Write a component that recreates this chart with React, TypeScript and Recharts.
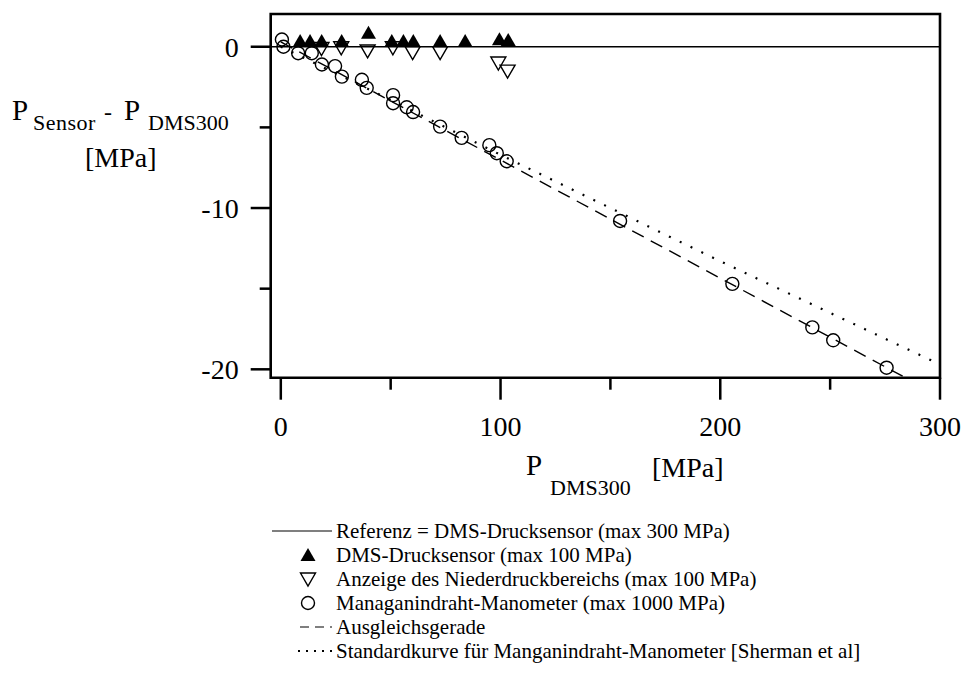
import { ComposedChart, Scatter, Line, XAxis, YAxis, ReferenceLine, ReferenceArea, Legend } from 'recharts'

// Manganindraht-Manometer (hollow circles)
const circleX = [0.5, 1.2, 7.9, 14.1, 18.7, 24.7, 27.8, 36.9, 39.1, 51.1, 51.1, 57.3, 60.2, 72.5, 82.3, 94.9, 98.3, 102.8, 154.4, 205.5, 241.9, 251.4, 275.7]
const circleY = [0.45, 0.0, -0.4, -0.4, -1.1, -1.2, -1.85, -2.05, -2.55, -3.0, -3.5, -3.75, -4.05, -4.95, -5.65, -6.1, -6.6, -7.1, -10.8, -14.7, -17.4, -18.2, -19.9]

// DMS-Drucksensor max 100 MPa (filled triangles)
const upX = [8.8, 13.3, 18.6, 27.7, 39.9, 50.5, 55.8, 60.3, 72.5, 83.9, 99.5, 103.5]
const upY = [0.3, 0.3, 0.3, 0.3, 0.8, 0.3, 0.3, 0.3, 0.3, 0.3, 0.4, 0.35]

// Anzeige des Niederdruckbereichs (hollow down triangles)
const downX = [18.5, 27.5, 39.5, 51.0, 60.0, 72.5, 99.0, 103.2]
const downY = [-0.05, 0.0, -0.2, 0.0, -0.3, -0.3, -0.95, -1.45]

// Ausgleichsgerade
const fitX = [0, 284]
const fitY = [0.3, -20.5]

// Standardkurve (Sherman et al)
const stdX = [0, 50, 100, 150, 200, 250, 300]
const stdY = [0, -3.3, -6.7, -10.0, -13.3, -16.5, -19.7]

const xDomain = [-4.6, 300]
const yDomain = [-20.52, 2.03]
const xTicks = [0, 50, 100, 150, 200, 250, 300]
const yTicks = [0, -5, -10, -15, -20]

const legendLabels = [
  'Referenz = DMS-Drucksensor (max 300 MPa)',
  'DMS-Drucksensor (max 100 MPa)',
  'Anzeige des Niederdruckbereichs (max 100 MPa)',
  'Managanindraht-Manometer (max 1000 MPa)',
  'Ausgleichsgerade',
  'Standardkurve für Manganindraht-Manometer [Sherman et al]',
]

const pts = (xs: number[], ys: number[]) => xs.map((x, i) => ({ x, y: ys[i] }))
const circles = pts(circleX, circleY)
const ups = pts(upX, upY)
const downs = pts(downX, downY)
const fit = pts(fitX, fitY)
const std = pts(stdX, stdY)

const serif = '"Liberation Serif", Tinos, "DejaVu Serif", serif'
const ink = '#000'

const UpTri = ({ cx, cy }: any) => (
  <polygon points={`${cx},${cy - 8} ${cx - 7.5},${cy + 5} ${cx + 7.5},${cy + 5}`} fill={ink} />
)
const DownTri = ({ cx, cy }: any) => (
  <polygon points={`${cx - 7.5},${cy - 5} ${cx + 7.5},${cy - 5} ${cx},${cy + 8}`} fill="none" stroke={ink} strokeWidth={1.4} />
)
const Ring = ({ cx, cy }: any) => <circle cx={cx} cy={cy} r={6.5} fill="none" stroke={ink} strokeWidth={1.4} />

function YTick({ x, y, payload }: any) {
  const major = payload.value % 10 === 0
  const axisX = x + 12 + 20
  return (
    <g>
      <line x1={axisX - (major ? 20 : 11)} x2={axisX} y1={y} y2={y} stroke={ink} strokeWidth={2.5} />
      {major && (
        <text x={x} y={y} dy="0.35em" textAnchor="end" fontFamily={serif} fontSize={28} fill={ink}>
          {payload.value}
        </text>
      )}
    </g>
  )
}

function XTick({ x, y, payload }: any) {
  const major = payload.value % 100 === 0
  const axisY = y - 22 - 14
  return (
    <g>
      <line x1={x} x2={x} y1={axisY} y2={axisY + (major ? 22 : 12)} stroke={ink} strokeWidth={2.5} />
      {major && (
        <text x={x} y={y} dy="0.78em" textAnchor="middle" fontFamily={serif} fontSize={28} fill={ink}>
          {payload.value}
        </text>
      )}
    </g>
  )
}

function LegendSymbol({ i }: { i: number }) {
  if (i === 0) return <line x1={2} x2={62} y1={12} y2={12} stroke={ink} strokeWidth={1.2} />
  if (i === 1) return <UpTri cx={38} cy={13} />
  if (i === 2) return <DownTri cx={38} cy={11} />
  if (i === 3) return <Ring cx={38} cy={12} />
  if (i === 4) return <line x1={30} x2={62} y1={12} y2={12} stroke={ink} strokeWidth={1.2} strokeDasharray="9 6" />
  return <line x1={28} x2={62} y1={12} y2={12} stroke={ink} strokeWidth={1.8} strokeDasharray="2 6" />
}

function LegendBox() {
  return (
    <div style={{ fontFamily: serif, fontSize: 21, color: ink }}>
      {legendLabels.map((label, i) => (
        <div key={label} style={{ display: 'flex', alignItems: 'center', height: 24, whiteSpace: 'nowrap' }}>
          <svg width={66} height={24} style={{ flex: 'none' }}>
            <LegendSymbol i={i} />
          </svg>
          <span>{label}</span>
        </div>
      ))}
    </div>
  )
}

export default function App() {
  return (
    <div style={{ position: 'absolute', left: 0, top: 0, width: 967, height: 682, background: '#fff' }}>
      <ComposedChart width={967} height={682} margin={{ top: 14, right: 27, bottom: 244.3, left: 210.7 }}>
        <XAxis
          type="number"
          dataKey="x"
          domain={xDomain}
          ticks={xTicks}
          allowDataOverflow
          height={60}
          tickSize={22}
          tickMargin={14}
          tickLine={false}
          axisLine={false}
          tick={<XTick />}
        />
        <YAxis
          type="number"
          dataKey="y"
          domain={yDomain}
          ticks={yTicks}
          allowDataOverflow
          width={60}
          tickSize={20}
          tickMargin={12}
          tickLine={false}
          axisLine={false}
          tick={<YTick />}
        />
        <ReferenceArea x1={xDomain[0]} x2={xDomain[1]} y1={yDomain[0]} y2={yDomain[1]} fill="none" stroke={ink} strokeWidth={2.6} fillOpacity={0} />
        <ReferenceLine y={0} stroke={ink} strokeWidth={1.6} />
        <Line data={std} dataKey="y" stroke={ink} strokeWidth={2.2} strokeDasharray="2 10" dot={false} isAnimationActive={false} />
        <Line data={fit} dataKey="y" stroke={ink} strokeWidth={1.4} strokeDasharray="13 8" dot={false} isAnimationActive={false} />
        <Scatter data={downs} shape={<DownTri />} isAnimationActive={false} />
        <Scatter data={ups} shape={<UpTri />} isAnimationActive={false} />
        <Scatter data={circles} shape={<Ring />} isAnimationActive={false} />
        <Legend
          verticalAlign="middle"
          layout="horizontal"
          content={<LegendBox />}
          wrapperStyle={{ left: 270, top: 519, width: 690, height: 150 }}
        />
      </ComposedChart>
      <svg width={967} height={682} style={{ position: 'absolute', left: 0, top: 0, pointerEvents: 'none' }}>
        <g fontFamily={serif} fill={ink}>
          <text x={12} y={120} fontSize={29}>P</text>
          <text x={33} y={130} fontSize={22} letterSpacing={0.5}>Sensor</text>
          <text x={104} y={120} fontSize={24}>-</text>
          <text x={124} y={120} fontSize={29}>P</text>
          <text x={148} y={130} fontSize={22}>DMS300</text>
          <text x={85} y={167} fontSize={28}>[MPa]</text>
          <text x={526} y={475} fontSize={29}>P</text>
          <text x={550} y={495} fontSize={22}>DMS300</text>
          <text x={652} y={477} fontSize={28}>[MPa]</text>
        </g>
      </svg>
    </div>
  )
}
